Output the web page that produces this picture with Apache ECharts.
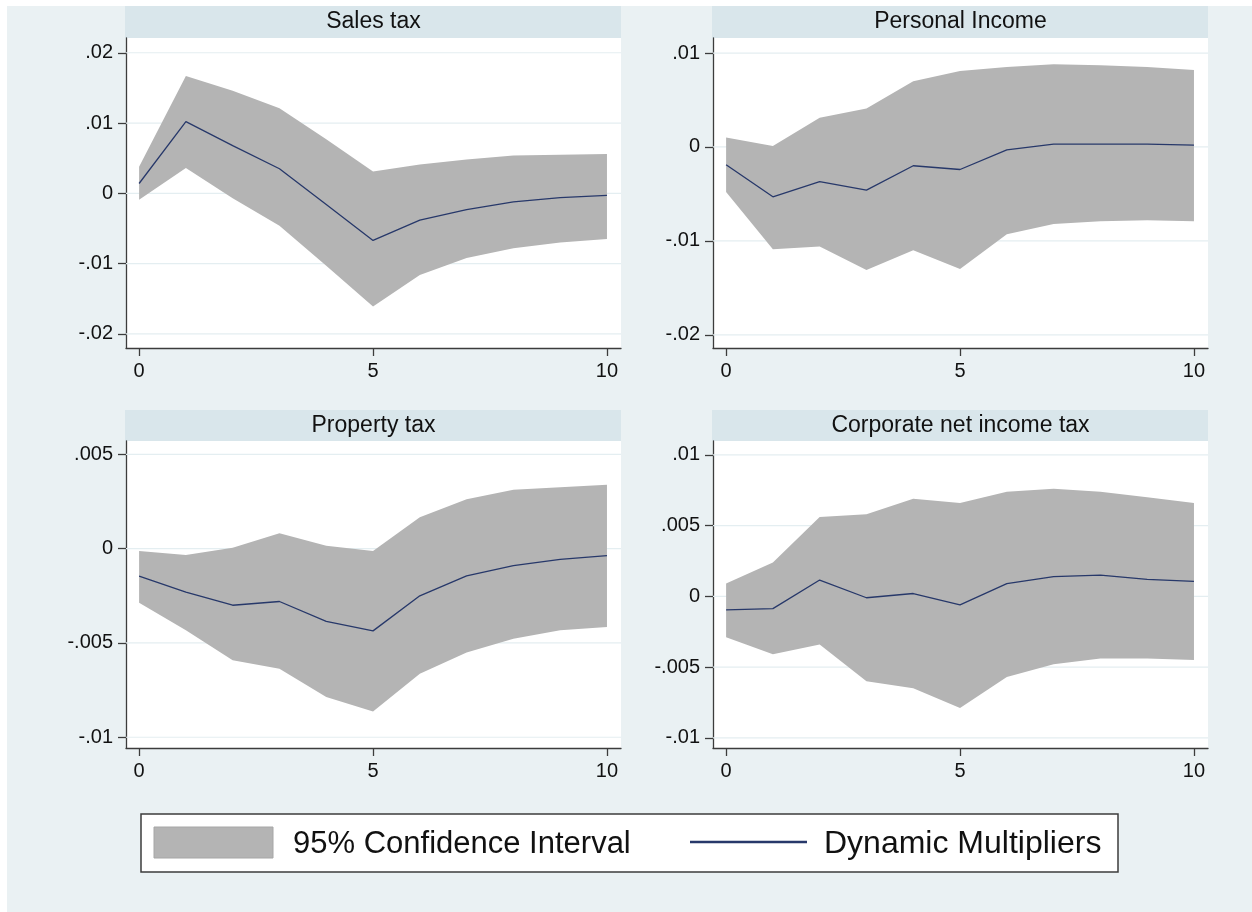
<!DOCTYPE html>
<html>
<head>
<meta charset="utf-8">
<script src="https://cdn.jsdelivr.net/npm/echarts@6/dist/echarts.min.js"></script>
<style>
  html, body { margin: 0; padding: 0; background: #ffffff; }
  #chart { width: 1252px; height: 912px; }
</style>
</head>
<body>
<div id="chart"></div>
<script>
// Forecast horizons shared by every panel
const horizons = [0, 1, 2, 3, 4, 5, 6, 7, 8, 9, 10];
const xTicks = [0, 5, 10];

// Sales tax
const salesLine  = [0.0014, 0.0102, 0.0068, 0.0035, -0.0016, -0.0067, -0.0038, -0.0023, -0.0012, -0.0006, -0.0003];
const salesUpper = [0.0038, 0.0167, 0.0146, 0.0121, 0.0077, 0.0031, 0.0041, 0.0048, 0.0054, 0.0055, 0.0056];
const salesLower = [-0.0009, 0.0036, -0.0007, -0.0046, -0.0103, -0.0161, -0.0116, -0.0092, -0.0078, -0.0070, -0.0065];
const salesTicks = [0.02, 0.01, 0, -0.01, -0.02];

// Personal Income
const incomeLine  = [-0.0019, -0.0053, -0.0037, -0.0046, -0.0020, -0.0024, -0.0003, 0.0003, 0.0003, 0.0003, 0.0002];
const incomeUpper = [0.0010, 0.0001, 0.0031, 0.0041, 0.0070, 0.0081, 0.0085, 0.0088, 0.0087, 0.0085, 0.0082];
const incomeLower = [-0.0048, -0.0109, -0.0106, -0.0131, -0.0110, -0.0130, -0.0093, -0.0082, -0.0079, -0.0078, -0.0079];
const incomeTicks = [0.01, 0, -0.01, -0.02];

// Property tax
const propertyLine  = [-0.00145, -0.0023, -0.0030, -0.0028, -0.00385, -0.00436, -0.0025, -0.00144, -0.0009, -0.00057, -0.00037];
const propertyUpper = [-0.00012, -0.00034, 0.00005, 0.00082, 0.00016, -0.00012, 0.00167, 0.00262, 0.00312, 0.00326, 0.00339];
const propertyLower = [-0.00287, -0.00433, -0.00592, -0.00637, -0.00787, -0.00863, -0.00663, -0.00551, -0.00477, -0.00433, -0.00415];
const propertyTicks = [0.005, 0, -0.005, -0.01];

// Corporate net income tax
const corpLine  = [-0.00096, -0.00087, 0.00115, -0.0001, 0.0002, -0.0006, 0.0009, 0.0014, 0.0015, 0.0012, 0.00106];
const corpUpper = [0.0009, 0.0024, 0.0056, 0.0058, 0.0069, 0.0066, 0.0074, 0.0076, 0.0074, 0.0070, 0.0066];
const corpLower = [-0.0029, -0.0041, -0.0034, -0.0060, -0.0065, -0.0079, -0.0057, -0.0048, -0.0044, -0.0044, -0.0045];
const corpTicks = [0.01, 0.005, 0, -0.005, -0.01];

const titles = ['Sales tax', 'Personal Income', 'Property tax', 'Corporate net income tax'];
const legendNames = ['95% Confidence Interval', 'Dynamic Multipliers'];

const FONT = '"Liberation Sans", Arial, Helvetica, sans-serif';
const BG = '#eaf1f3';
const BAND_BG = '#d9e6eb';
const GRID_LINE = '#e4eef1';
const CI_FILL = '#b4b4b4';
const LINE_COLOR = '#27386a';
const AXIS_COLOR = '#3c3c3c';

const panels = [
  { line: salesLine, upper: salesUpper, lower: salesLower, ticks: salesTicks, yMin: -0.0220, yMax: 0.0221,
    box: { left: 126, top: 38, width: 495, height: 310 } },
  { line: incomeLine, upper: incomeUpper, lower: incomeLower, ticks: incomeTicks, yMin: -0.0214, yMax: 0.0116,
    box: { left: 713, top: 38, width: 495, height: 310 } },
  { line: propertyLine, upper: propertyUpper, lower: propertyLower, ticks: propertyTicks, yMin: -0.01057, yMax: 0.00571,
    box: { left: 126, top: 441, width: 495, height: 307 } },
  { line: corpLine, upper: corpUpper, lower: corpLower, ticks: corpTicks, yMin: -0.01072, yMax: 0.01098,
    box: { left: 713, top: 441, width: 495, height: 307 } }
];

// Stata-style tick labels: drop the leading zero (".01", "-.005")
function tickLabel(v) {
  if (Math.abs(v) < 1e-12) return '0';
  return String(+v.toPrecision(6)).replace(/^(-?)0\./, '$1.');
}

const grids = [], xAxes = [], yAxes = [], series = [], graphics = [];

// white margin on the top and left edges
graphics.push({ type: 'rect', shape: { x: 0, y: 0, width: 1252, height: 6 }, style: { fill: '#ffffff' }, silent: true });
graphics.push({ type: 'rect', shape: { x: 0, y: 0, width: 7, height: 912 }, style: { fill: '#ffffff' }, silent: true });

panels.forEach((p, i) => {
  const b = p.box;
  grids.push({
    left: b.left, top: b.top, width: b.width, height: b.height,
    show: true, backgroundColor: '#ffffff', borderWidth: 0, containLabel: false
  });
  xAxes.push({
    type: 'value', gridIndex: i, min: -0.28, max: 10.3,
    axisLine: { show: true, onZero: false, lineStyle: { color: AXIS_COLOR, width: 1.3 } },
    axisTick: { show: true, length: 8, customValues: xTicks, lineStyle: { color: AXIS_COLOR, width: 1.3 } },
    axisLabel: { show: true, customValues: xTicks, margin: 13, fontSize: 20, color: '#111', fontFamily: FONT,
                 formatter: v => String(v) },
    splitLine: { show: false }
  });
  yAxes.push({
    type: 'value', gridIndex: i, min: p.yMin, max: p.yMax,
    axisLine: { show: true, onZero: false, lineStyle: { color: AXIS_COLOR, width: 1.3 } },
    axisTick: { show: true, length: 8, customValues: p.ticks, lineStyle: { color: AXIS_COLOR, width: 1.3 } },
    axisLabel: { show: true, customValues: p.ticks, margin: 13, fontSize: 20, color: '#111', fontFamily: FONT,
                 formatter: v => tickLabel(v) },
    splitLine: { show: false }
  });

  // horizontal gridlines at the labelled values
  series.push({
    type: 'custom', xAxisIndex: i, yAxisIndex: i, z: 1, silent: true, animation: false,
    data: p.ticks.map(v => [0, v]),
    renderItem: (params, api) => {
      const cs = params.coordSys;
      const y = api.coord([0, api.value(1)])[1];
      return { type: 'line', shape: { x1: cs.x, y1: y, x2: cs.x + cs.width, y2: y },
               style: { stroke: GRID_LINE, lineWidth: 1.2 } };
    }
  });

  // 95% confidence band as one polygon: upper edge forward, lower edge back
  series.push({
    name: legendNames[0], type: 'custom', xAxisIndex: i, yAxisIndex: i, z: 2, silent: true, animation: false,
    data: [[0, 0]],
    renderItem: (params, api) => {
      const pts = [];
      horizons.forEach((h, k) => pts.push(api.coord([h, p.upper[k]])));
      for (let k = horizons.length - 1; k >= 0; k--) pts.push(api.coord([horizons[k], p.lower[k]]));
      return { type: 'polygon', shape: { points: pts }, style: { fill: CI_FILL } };
    }
  });

  // dynamic multiplier path
  series.push({
    name: legendNames[1], type: 'line', xAxisIndex: i, yAxisIndex: i, z: 3, silent: true, animation: false,
    showSymbol: false, symbol: 'none',
    data: horizons.map((h, k) => [h, p.line[k]]),
    lineStyle: { color: LINE_COLOR, width: 1.3 }
  });

  // panel heading strip
  const bandTop = i < 2 ? 6 : 410;
  graphics.push({ type: 'rect', shape: { x: b.left - 1, y: bandTop, width: b.width + 1, height: b.top - bandTop },
                  style: { fill: BAND_BG }, silent: true });
  graphics.push({ type: 'text', x: b.left + b.width / 2, y: bandTop + (b.top - bandTop) / 2,
                  style: { text: titles[i], fill: '#111', font: '23px ' + FONT, textAlign: 'center', textVerticalAlign: 'middle' },
                  silent: true });
});

// legend box
graphics.push({ type: 'rect', shape: { x: 141, y: 814, width: 977, height: 58 },
                style: { fill: '#ffffff', stroke: '#3c3c3c', lineWidth: 1.5 }, silent: true });
graphics.push({ type: 'rect', shape: { x: 154, y: 827, width: 119, height: 31 },
                style: { fill: CI_FILL, stroke: '#a6a6a6', lineWidth: 1 }, silent: true });
graphics.push({ type: 'text', x: 293, y: 844,
                style: { text: legendNames[0], fill: '#111', font: '31px ' + FONT, textAlign: 'left', textVerticalAlign: 'middle' },
                silent: true });
graphics.push({ type: 'line', shape: { x1: 690, y1: 842, x2: 807, y2: 842 },
                style: { stroke: LINE_COLOR, lineWidth: 2.5 }, silent: true });
graphics.push({ type: 'text', x: 824, y: 844,
                style: { text: legendNames[1], fill: '#111', font: '32px ' + FONT, textAlign: 'left', textVerticalAlign: 'middle' },
                silent: true });

const chart = echarts.init(document.getElementById('chart'), null, { renderer: 'canvas' });
chart.setOption({
  backgroundColor: BG,
  animation: false,
  textStyle: { fontFamily: FONT },
  grid: grids,
  xAxis: xAxes,
  yAxis: yAxes,
  series: series,
  graphic: { elements: graphics }
});
</script>
</body>
</html>
